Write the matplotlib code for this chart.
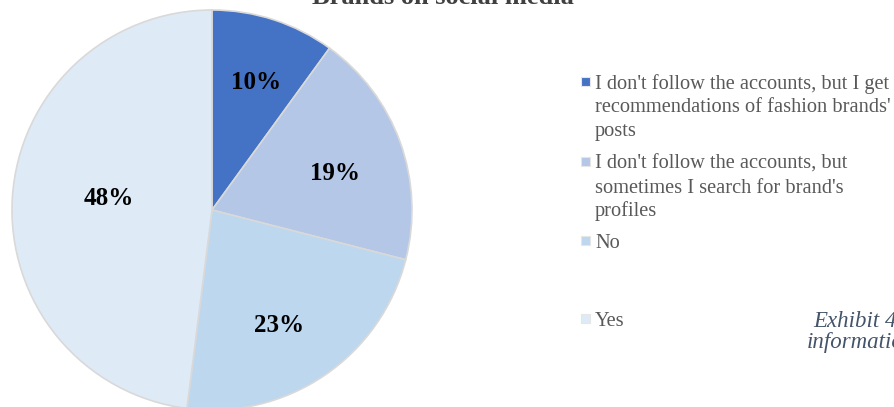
import numpy as np
import matplotlib.pyplot as plt
from matplotlib.patches import Rectangle

# survey shares, clockwise from 12 o'clock
labels = ["I don't follow the accounts, but I get recommendations of fashion brands' posts",
          "I don't follow the accounts, but sometimes I search for brand's profiles",
          "No",
          "Yes"]
shares = [10, 19, 23, 48]
colors = ["#4472C4", "#B4C7E7", "#BDD7EE", "#DEEBF7"]

# how the legend text wraps
legend_lines = [["I don't follow the accounts, but I get",
                 "recommendations of fashion brands'",
                 "posts"],
                ["I don't follow the accounts, but",
                 "sometimes I search for brand's",
                 "profiles"],
                ["No"],
                ["Yes"]]

W, H = 894, 407
plt.rcParams['font.family'] = ['Liberation Serif', 'DejaVu Serif']

fig = plt.figure(figsize=(W / 100, H / 100), dpi=100)


def px(x, y):
    return x / W, 1 - y / H


# pie axes: centre (212, 210), radius 202 px
cx, cy, r = 212, 210, 202
ax = fig.add_axes([(cx - r) / W, 1 - (cy + r) / H, 2 * r / W, 2 * r / H])
wedges, texts, autotexts = ax.pie(
    shares, colors=colors, startangle=90, counterclock=False,
    autopct='%1.0f%%', pctdistance=0.66,
    wedgeprops=dict(edgecolor='#D9D9D9', linewidth=1.2),
    textprops=dict(fontsize=18, fontweight='bold', color='black'))
ax.set_aspect('equal')
ax.set_xlim(-1.01, 1.01)
ax.set_ylim(-1.01, 1.01)

# "best fit" style label spots: radius fraction and angle shift per slice
label_dist = [0.675, 0.64, 0.67, 0.52]
label_shift = [-1, -3, -4, -3]
for w, t, d, s in zip(wedges, autotexts, label_dist, label_shift):
    ang = np.deg2rad((w.theta1 + w.theta2) / 2 + s)
    t.set_position((d * np.cos(ang), d * np.sin(ang)))

# title, mostly outside the top edge
fig.text(*px(443, 4), "Brands on social media", ha='center', va='baseline',
         fontsize=19, fontweight='bold', color='#404040')

# legend
baselines = [89, 169, 248, 326]
step = 23.5
for i, lines in enumerate(legend_lines):
    y0 = baselines[i]
    sq = 9
    fig.add_artist(Rectangle(px(581, y0 - 3), sq / W, sq / H, transform=fig.transFigure,
                             facecolor=colors[i], edgecolor='#E6E6E6', linewidth=0.8))
    for j, line in enumerate(lines):
        fig.text(*px(595, y0 + j * step), line, ha='left', va='baseline',
                 fontsize=14.7, color='#595959')

# caption on the right
fig.text(*px(813, 327), "Exhibit 4", ha='left', va='baseline',
         fontsize=16.5, style='italic', color='#44546A')
fig.text(*px(807, 348), "information", ha='left', va='baseline',
         fontsize=16.5, style='italic', color='#44546A')

fig.savefig("out.png", dpi=100)
